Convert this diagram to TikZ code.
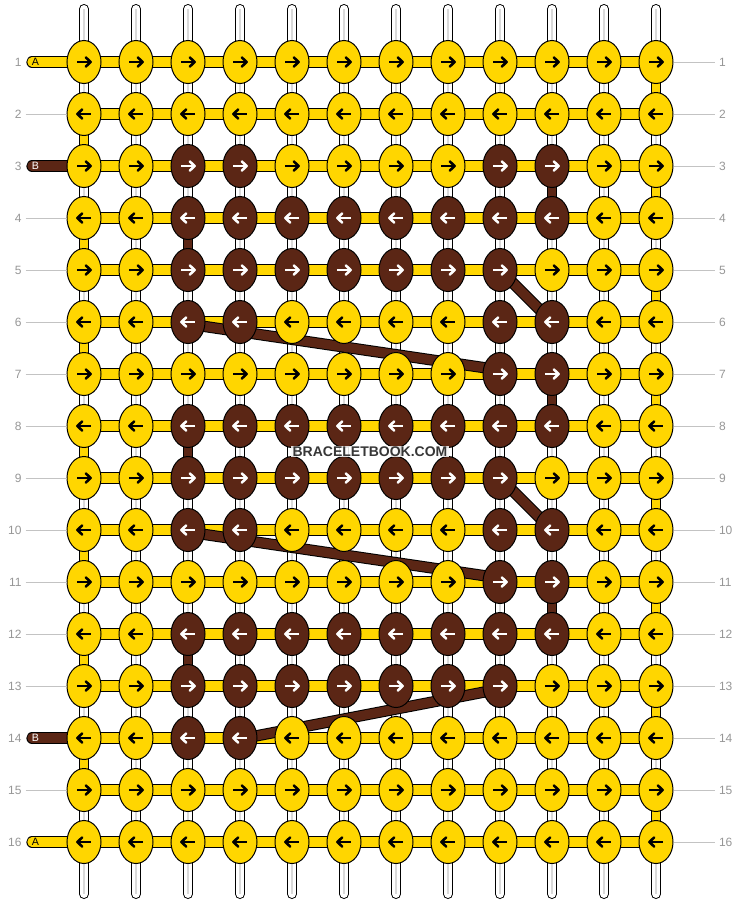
\documentclass[tikz,border=0pt]{standalone}
\usepackage{fontspec}
\setmainfont{Liberation Sans}
\usetikzlibrary{shapes.geometric}

\definecolor{knoty}{RGB}{255,214,0}
\definecolor{knotb}{RGB}{91,38,21}
\colorlet{arry}{black}
\colorlet{arrb}{white}
\definecolor{labgray}{RGB}{150,150,150}
\definecolor{guidegray}{RGB}{195,195,195}
\definecolor{wmgray}{RGB}{55,55,55}

\pgfdeclarelayer{strings}
\pgfsetlayers{strings,main}

\begin{document}
\begin{tikzpicture}[
    x=0.75pt, y=-0.75pt,
    knot/.style={ellipse, draw=black, line width=0.75pt, fill=knot#1, minimum width=25.5pt, minimum height=32.25pt, inner sep=0pt},
    tube/.style={line width=0.75pt, double=white, double distance=6pt, line cap=round},
    core/.style={line width=1.1pt, draw=gray!30},
    link/.style={line width=0.75pt, double=knot#1, double distance=6pt},
    bar/.style={line width=0.75pt, double=knoty, double distance=7pt},
    tail/.style={line width=0.75pt, double=knot#1, double distance=7pt, line cap=round},
    strand/.style={line width=0.75pt, double=knotb, double distance=7pt},
    rowno/.style={text=labgray, font=\fontsize{9pt}{9pt}\selectfont, inner sep=0pt, outer xsep=3pt},
    guide/.style={draw=guidegray, line width=0.75pt},
    tailtext/.style={font=\fontsize{8pt}{8pt}\selectfont, inner sep=0pt},
    watermark/.style={font=\bfseries\fontsize{10.5pt}{10.5pt}\selectfont, text=wmgray, fill=white, fill opacity=0.85, text opacity=1, inner xsep=1.5pt, inner ysep=0.6pt, text height=7.6pt, text depth=0pt},
    arrowglyph/.pic={
        \draw[line width=1.9pt] (-6.7,0) -- (6,0);
        \draw[line width=1.9pt, line join=round, line cap=round] (1.8,-4.6) -- (6.6,0) -- (1.8,4.6);
    }
]
\useasboundingbox (0,0) rectangle (740,904);

% knots, row by row
\foreach \i/\rowcols in {
    1/{y,y,y,y,y,y,y,y,y,y,y,y},
    2/{y,y,y,y,y,y,y,y,y,y,y,y},
    3/{y,y,b,b,y,y,y,y,b,b,y,y},
    4/{y,y,b,b,b,b,b,b,b,b,y,y},
    5/{y,y,b,b,b,b,b,b,b,y,y,y},
    6/{y,y,b,b,y,y,y,y,b,b,y,y},
    7/{y,y,y,y,y,y,y,y,b,b,y,y},
    8/{y,y,b,b,b,b,b,b,b,b,y,y},
    9/{y,y,b,b,b,b,b,b,b,y,y,y},
    10/{y,y,b,b,y,y,y,y,b,b,y,y},
    11/{y,y,y,y,y,y,y,y,b,b,y,y},
    12/{y,y,b,b,b,b,b,b,b,b,y,y},
    13/{y,y,b,b,b,b,b,b,b,y,y,y},
    14/{y,y,b,b,y,y,y,y,y,y,y,y},
    15/{y,y,y,y,y,y,y,y,y,y,y,y},
    16/{y,y,y,y,y,y,y,y,y,y,y,y}} {
  \pgfmathtruncatemacro\s{1-2*mod(\i+1,2)}
  \foreach \kc [count=\j from 0] in \rowcols {
    \node[knot=\kc] (k-\i-\j) at ({84+52*\j},{62+52*(\i-1)}) {};
    \pic[color=arr\kc, xscale=\s] at (k-\i-\j) {arrowglyph};
  }
}

% row numbers and guides
\foreach \i in {1,...,16} {
  \node[rowno, anchor=east] (nl\i) at (25.5,{62+52*(\i-1)}) {\i};
  \node[rowno, anchor=west] (nr\i) at (715,{62+52*(\i-1)}) {\i};
  \draw[guide] (k-\i-11) -- (nr\i);
}
\foreach \i in {2,4,5,6,7,8,9,10,11,12,13,15}
  \draw[guide] (nl\i) -- (k-\i-0);

% starting threads
\foreach \i/\t/\tc in {1/A/black, 3/B/white, 14/B/white, 16/A/black}
  \node[tailtext, text=\tc] (lt\i) at (35.5,{62+52*(\i-1)}) {\t};

\node[watermark] (wm) at (370,451.5) {BRACELETBOOK.COM};

\begin{pgfonlayer}{strings}
  % base strings
  \foreach \j in {0,...,11} {
    \coordinate (top\j) at ({84+52*\j},9);
    \coordinate (bot\j) at ({84+52*\j},894);
    \draw[tube] (top\j) -- (bot\j);
    \draw[core] (top\j) -- (bot\j);
  }
  % turns at the edges
  \foreach \i in {2,4,...,14} {
    \pgfmathtruncatemacro\n{\i+1}
    \draw[link=y] (k-\i-0.center) -- (k-\n-0.center);
  }
  \foreach \i in {1,3,...,15} {
    \pgfmathtruncatemacro\n{\i+1}
    \draw[link=y] (k-\i-11.center) -- (k-\n-11.center);
  }
  \foreach \j/\i in {9/3, 9/7, 9/11, 2/4, 2/8, 2/12} {
    \pgfmathtruncatemacro\n{\i+1}
    \draw[link=b] (k-\i-\j.center) -- (k-\n-\j.center);
  }
  % rows
  \foreach \i in {1,...,16}
    \draw[bar] (k-\i-0.center) -- (k-\i-11.center);
  \foreach \i/\kc in {1/y, 3/b, 14/b, 16/y} {
    \coordinate (ts\i) at (32,{62+52*(\i-1)});
    \draw[tail=\kc] (ts\i) -- (k-\i-0.center);
  }
  % carried brown thread
  \draw[strand] (k-5-8.center) -- (k-6-9.center);
  \draw[strand] ([yshift=-1.5pt]k-6-2.center) -- ([yshift=3pt]k-7-8.center);
  \draw[strand] (k-9-8.center) -- (k-10-9.center);
  \draw[strand] ([yshift=-1.5pt]k-10-2.center) -- ([yshift=3pt]k-11-8.center);
  \draw[strand] ([yshift=-0.75pt]k-14-3.center) -- ([yshift=-2.25pt]k-13-8.center);
\end{pgfonlayer}

\end{tikzpicture}
\end{document}
